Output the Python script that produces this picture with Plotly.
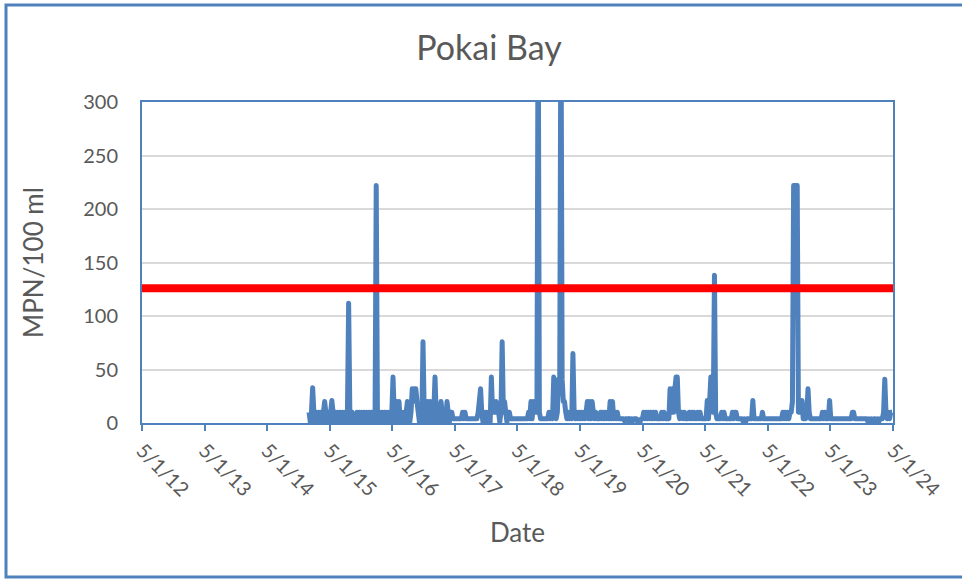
import pandas as pd
import plotly.graph_objects as go

# Pokai Bay weekly E. coli samples (MPN/100 ml).
# sampling starts 2015-01-01, one sample every 7 days; values > 300 run off the top of the axis
sample_start = "2015-01-01"
sample_step = "7D"

mpn_2015 = [10, 1, 10, 33, 10, 1, 10, 1, 10, 1, 10, 1, 10, 20, 10, 1, 10, 1, 10, 21, 10, 1, 10, 1, 10, 1,
            10, 1, 10, 1, 10, 1, 10, 112, 10, 1, 10, 1, 1, 1, 10, 1, 10, 1, 10, 1, 10, 1, 10, 1, 10, 1]
mpn_2016 = [10, 1, 10, 1, 222, 10, 1, 10, 1, 10, 1, 10, 1, 10, 1, 10, 1, 10, 43, 10, 1, 20, 10, 20, 1, 10,
            1, 10, 1, 10, 20, 10, 1, 10, 32, 20, 32, 32, 20, 10, 1, 10, 1, 76, 10, 1, 10, 20, 1, 20, 10, 1]
mpn_2017 = [10, 43, 10, 1, 10, 1, 20, 10, 1, 10, 1, 20, 10, 1, 10, 10, 4, 4, 4, 4, 4, 4, 4, 4, 10, 4,
            10, 4, 4, 4, 4, 4, 4, 4, 4, 4, 4, 10, 21, 32, 10, 1, 10, 1, 10, 1, 10, 1, 43, 10, 20, 10]
mpn_2018 = [20, 10, 10, 1, 10, 76, 10, 20, 10, 1, 10, 10, 4, 4, 4, 4, 4, 4, 4, 4, 4, 4, 4, 4, 4, 4,
            4, 10, 4, 20, 4, 20, 10, 20, 10, 410, 10, 4, 4, 4, 4, 4, 4, 4, 10, 4, 10, 4, 43, 10, 4, 10]
mpn_2019 = [41, 41, 410, 41, 20, 20, 10, 4, 10, 4, 10, 4, 65, 10, 4, 10, 4, 10, 4, 10, 4, 10, 4, 10, 20, 4,
            20, 4, 20, 10, 4, 10, 4, 4, 4, 10, 4, 10, 4, 10, 4, 10, 4, 20, 4, 20, 4, 10, 4, 10, 4, 4]
mpn_2020 = [4, 4, 4, 2, 4, 4, 2, 4, 1, 4, 2, 4, 4, 4, 1, 0, 1, 4, 4, 10, 4, 10, 4, 10, 4, 10,
            4, 10, 4, 10, 4, 4, 4, 4, 10, 4, 10, 4, 4, 4, 4, 32, 10, 32, 10, 32, 43, 43, 10, 4, 10, 10]
mpn_2021 = [4, 10, 4, 4, 4, 10, 4, 10, 4, 10, 4, 4, 10, 4, 10, 4, 4, 4, 4, 4, 21, 4, 21, 43, 43, 10,
            138, 10, 4, 4, 4, 4, 10, 4, 10, 4, 4, 4, 4, 4, 4, 10, 4, 10, 10, 4, 4, 4, 4, 4, 1, 4]
mpn_2022 = [1, 4, 4, 4, 4, 4, 21, 4, 4, 4, 4, 4, 4, 4, 10, 4, 4, 4, 4, 4, 4, 4, 4, 4, 4, 4,
            4, 4, 4, 4, 4, 10, 4, 10, 4, 10, 4, 10, 10, 20, 222, 222, 222, 222, 10, 21, 10, 21, 4, 4, 4, 10]
mpn_2023 = [32, 10, 4, 4, 4, 4, 4, 4, 4, 4, 4, 4, 10, 4, 10, 4, 4, 4, 21, 4, 4, 4, 4, 4, 4, 4,
            4, 4, 4, 4, 4, 4, 4, 4, 4, 4, 4, 10, 10, 4, 4, 4, 4, 4, 4, 4, 4, 4, 4, 4, 1, 4]
mpn_2024 = [1, 4, 1, 4, 4, 1, 4, 1, 4, 4, 4, 10, 41, 10, 4, 10, 4, 10, 10]

# water quality standard (red line)
stv_dates = ["2012-05-01", "2024-05-01"]
stv_value = [126, 126]

x_range = ["2012-05-01", "2024-05-01"]
y_ticks = [0, 50, 100, 150, 200, 250, 300]

mpn = (mpn_2015 + mpn_2016 + mpn_2017 + mpn_2018 + mpn_2019 + mpn_2020 +
       mpn_2021 + mpn_2022 + mpn_2023 + mpn_2024)
dates = pd.date_range(sample_start, periods=len(mpn), freq=sample_step)

blue = "#4F81BD"
grey = "#595959"
font = "Lato"

fig = go.Figure()
fig.add_trace(go.Scatter(x=dates, y=mpn, mode="lines", line=dict(color=blue, width=5, simplify=False),
                         showlegend=False))
fig.add_trace(go.Scatter(x=stv_dates, y=stv_value, mode="lines", line=dict(color="#FF0000", width=8),
                         showlegend=False))

# plot area in pixels: x 142..893, y 102..423
ml, mr, mt, mb = 142, 69, 102, 156
pw, ph = 962 - ml - mr, 579 - mt - mb


def px(x):
    return (x - ml) / pw


def py(y):
    return (579 - mb - y) / ph


# chart border
fig.add_shape(type="rect", xref="paper", yref="paper", x0=px(6), x1=px(966), y0=py(577), y1=py(5),
              line=dict(color=blue, width=3), layer="below")

fig.update_layout(
    width=962, height=579,
    margin=dict(l=ml, r=mr, t=mt, b=mb),
    paper_bgcolor="white", plot_bgcolor="white",
    font=dict(family=font, color=grey),
    title=dict(text="Pokai Bay", x=489 / 962, xanchor="center", y=1 - 48 / 579, yanchor="middle",
               font=dict(size=34, color=grey)),
    xaxis=dict(type="date", range=x_range, tick0=x_range[0], dtick="M12",
               tickformat="%-m/%-d/%y", tickangle=45, tickfont=dict(size=20, color=grey),
               ticks="outside", ticklen=6, tickwidth=2, tickcolor=blue,
               showline=True, linecolor=blue, linewidth=2, mirror=True, showgrid=False, zeroline=False,
               title=dict(text="Date", font=dict(size=26, color=grey), standoff=24)),
    yaxis=dict(range=[0, 300], tickvals=y_ticks, tickfont=dict(size=20, color=grey),
               ticks="", ticklabelstandoff=18,
               showline=True, linecolor=blue, linewidth=2, mirror=True,
               showgrid=True, gridcolor="#D9D9D9", gridwidth=2, zeroline=False,
               title=dict(text="MPN/100 ml", font=dict(size=26, color=grey), standoff=32)),
)

# no page margin, and Excel-like rounded line joins
js = """
document.body.style.margin = '0';
document.querySelectorAll('.scatterlayer .js-line').forEach(function (p) {
    p.style.strokeLinejoin = 'round';
});
"""
fig.write_html("out.html", config={"displayModeBar": False}, post_script=js)
